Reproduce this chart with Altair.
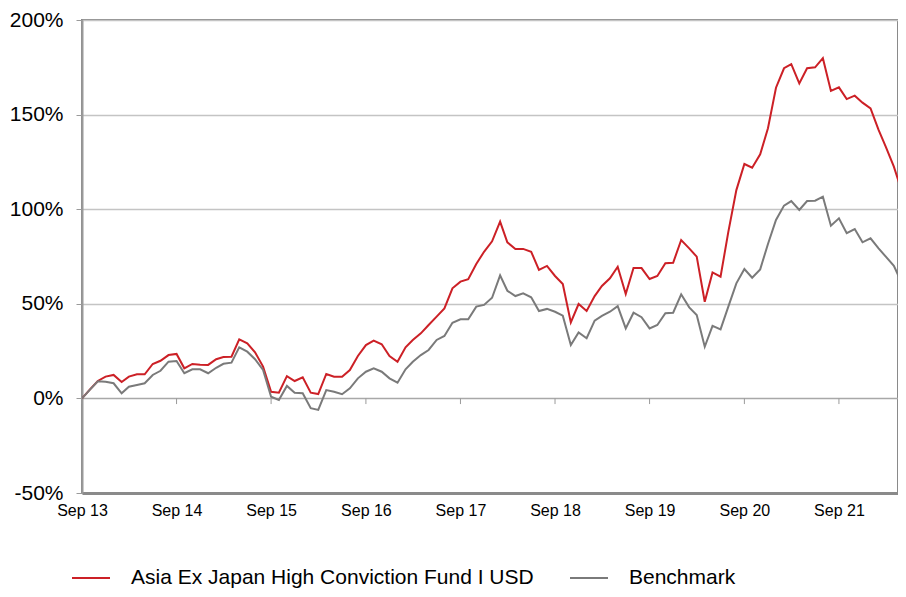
import altair as alt
import pandas as pd

FUND = "Asia Ex Japan High Conviction Fund I USD"
BENCH = "Benchmark"

start_month = "2013-09-01"
n_months = 106

fund = [0, 4.6, 9.2, 11.5, 12.4, 8.7, 11.5, 12.7, 12.7, 18.2, 19.9, 22.9, 23.5,
        15.9, 18.2, 17.8, 17.7, 20.7, 21.9, 22.0, 31.2, 29.1, 24.4, 16.8, 3.5,
        3.0, 11.8, 9.2, 11.1, 3.0, 2.3, 12.9, 11.5, 11.5, 15.0, 22.4, 28.2,
        30.5, 28.6, 22.4, 19.4, 27.0, 30.9, 34.4, 38.8, 43.2, 47.6, 58.2, 61.7,
        63.0, 71.0, 77.5, 83.0, 93.4, 82.5, 79.0, 79.0, 77.5, 67.9, 70.0, 64.7,
        60.5, 40.2, 49.9, 46.2, 54.1, 59.4, 63.5, 69.6, 55.2, 68.9, 68.9, 63.1,
        64.7, 71.4, 71.7, 83.7, 79.3, 74.9, 51.1, 66.6, 64.3, 88.0, 110.1, 123.9,
        121.9, 129.0, 142.8, 164.2, 174.5, 176.7, 166.5, 174.5, 175.0, 179.8,
        162.5, 164.4, 158.2, 160.0, 156.3, 153.3, 141.9, 133.0, 122.5, 109.8, 109.3]

bench = [0, 4.5, 9.0, 8.8, 8.0, 2.7, 6.2, 7.1, 8.0, 12.4, 14.6, 19.4, 19.8,
         13.3, 15.4, 15.4, 13.3, 16.2, 18.3, 18.9, 27.0, 24.7, 20.7, 15.0, 0.9,
         -0.8, 6.6, 3.0, 2.7, -5.2, -6.1, 4.4, 3.5, 2.2, 5.3, 10.6, 14.1,
         15.9, 14.1, 10.6, 8.3, 15.4, 19.4, 22.9, 25.6, 30.9, 33.0, 40.0, 41.8,
         41.8, 48.5, 49.4, 53.2, 65.0, 56.9, 54.1, 55.5, 53.4, 46.2, 47.3, 45.8,
         43.7, 28.2, 34.9, 31.8, 41.1, 43.6, 45.8, 48.8, 37.0, 45.3, 42.9, 37.0,
         38.8, 45.0, 45.3, 55.0, 48.1, 44.1, 27.3, 38.3, 36.5, 48.5, 60.8, 68.4,
         63.8, 68.2, 81.6, 94.3, 101.9, 104.3, 99.6, 104.3, 104.5, 106.6,
         91.3, 95.2, 87.3, 89.5, 82.5, 84.6, 79.3, 74.9, 70.1, 61.2, 61.7]

tick_dates = ["2013-09-01", "2014-09-01", "2015-09-01", "2016-09-01", "2017-09-01",
              "2018-09-01", "2019-09-01", "2020-09-01", "2021-09-01"]
y_ticks = [-50, 0, 50, 100, 150, 200]

dates = pd.date_range(start_month, periods=n_months, freq="MS")
df = pd.concat([
    pd.DataFrame({"date": dates, "value": fund, "series": FUND}),
    pd.DataFrame({"date": dates, "value": bench, "series": BENCH}),
])
df["date"] = df["date"].dt.strftime("%Y-%m-%d")
ticks_df = pd.DataFrame({"date": tick_dates, "y0": 0, "y1": -3})

FONT = "Liberation Sans"
x_scale = alt.Scale(domain=["2013-09-01", "2022-04-17"])
y_scale = alt.Scale(domain=[-50, 200])

lines = alt.Chart(df).mark_line(strokeWidth=2, clip=True).encode(
    x=alt.X("date:T", scale=x_scale, title=None,
            axis=alt.Axis(values=tick_dates, format="%b %y", labelFont=FONT,
                          labelFontSize=16, labelColor="#000000", labelPadding=9,
                          ticks=False, grid=False, domain=True, domainColor="#8a8a8a",
                          domainWidth=3, labelFlush=False, labelOverlap=False)),
    y=alt.Y("value:Q", scale=y_scale, title=None,
            axis=alt.Axis(values=y_ticks, labelExpr="datum.value + '%'",
                          labelFont=FONT, labelFontSize=21, labelColor="#000000",
                          labelPadding=13, tickSize=6, tickColor="#9a9a9a",
                          domainColor="#9a9a9a", domainWidth=2,
                          grid=True,
                          gridColor={"condition": {"test": "datum.value === 0", "value": "#a8a8a8"},
                                     "value": "#c4c4c4"},
                          gridWidth=1.5)),
    color=alt.Color("series:N", sort=[FUND, BENCH],
                    scale=alt.Scale(domain=[FUND, BENCH], range=["#cc2026", "#7a7a7a"]),
                    legend=alt.Legend(title=None, orient="none", legendX=-11, legendY=538,
                                      direction="horizontal", symbolType="stroke",
                                      symbolSize=1444, symbolStrokeWidth=2,
                                      labelFont=FONT, labelFontSize=21, labelColor="#000000",
                                      labelLimit=0,
                                      labelOffset=20, columnPadding=32, padding=0)),
)

tick_marks = alt.Chart(ticks_df).mark_rule(color="#9a9a9a", strokeWidth=1).encode(
    x=alt.X("date:T", scale=x_scale),
    y=alt.Y("y0:Q", scale=y_scale),
    y2="y1:Q",
)

chart = alt.layer(tick_marks, lines).properties(
    width=816, height=473,
    autosize=alt.AutoSizeParams(type="none"),
    padding={"left": 74, "top": 12, "right": 0, "bottom": 96},
).configure_view(stroke="#8a8a8a", strokeWidth=2)

chart.save("out.html", embed_options={"renderer": "svg", "actions": False})
